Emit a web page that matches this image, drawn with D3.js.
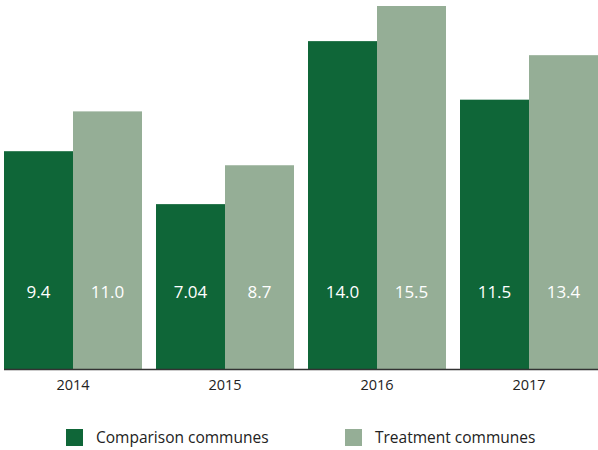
<!DOCTYPE html>
<html>
<head>
<meta charset="utf-8">
<script src="https://cdn.jsdelivr.net/npm/d3@7"></script>
<style>
  body { margin: 0; background: #fff; }
  svg text { font-family: "Open Sans", "Noto Sans", sans-serif; }
</style>
</head>
<body>
<div id="chart"></div>
<script>
var years = ["2014", "2015", "2016", "2017"];
var comparison = [9.3, 7.04, 14.0, 11.5];
var treatment = [11.0, 8.7, 15.5, 13.4];
var labelsComparison = ["9.4", "7.04", "14.0", "11.5"];
var labelsTreatment = ["11.0", "8.7", "15.5", "13.4"];
var seriesNames = ["Comparison communes", "Treatment communes"];
var colors = ["#0f6638", "#95ae96"];

var width = 598, height = 450;
var baseline = 369;

var svg = d3.select("#chart").append("svg")
  .attr("width", width)
  .attr("height", height);

var x = d3.scaleBand()
  .domain(years)
  .range([-3, 605])
  .paddingInner(14 / 152)
  .paddingOuter(7 / 152);

var sub = d3.scaleBand()
  .domain([0, 1])
  .range([0, x.bandwidth()]);

var y = d3.scaleLinear()
  .domain([0, 15.5])
  .range([baseline, 6]);

var rows = years.map(function(yr, i) {
  return {year: yr, vals: [comparison[i], treatment[i]], labels: [labelsComparison[i], labelsTreatment[i]]};
});

var group = svg.selectAll(".grp")
  .data(rows)
  .enter().append("g")
    .attr("class", "grp")
    .attr("transform", function(d) { return "translate(" + x(d.year) + ",0)"; });

group.selectAll("rect")
  .data(function(d) { return d.vals.map(function(v, j) { return {v: v, j: j}; }); })
  .enter().append("rect")
    .attr("x", function(d) { return sub(d.j); })
    .attr("y", function(d) { return y(d.v); })
    .attr("width", sub.bandwidth())
    .attr("height", function(d) { return baseline - y(d.v); })
    .attr("fill", function(d) { return colors[d.j]; });

group.selectAll("text.val")
  .data(function(d) { return d.labels.map(function(l, j) { return {l: l, j: j}; }); })
  .enter().append("text")
    .attr("class", "val")
    .attr("x", function(d) { return sub(d.j) + sub.bandwidth() / 2; })
    .attr("y", 298)
    .attr("text-anchor", "middle")
    .attr("fill", "#fff")
    .style("font-size", "17px")
    .text(function(d) { return d.l; });

// axis
var xAxis = d3.axisBottom(x).tickSize(0).tickPadding(11);
var ax = svg.append("g")
  .attr("transform", "translate(0," + baseline + ")")
  .call(xAxis);
ax.attr("font-size", 14.5)
  .attr("font-family", "'Open Sans', 'Noto Sans', sans-serif");
ax.select(".domain")
  .attr("d", "M4,0.5H598")
  .attr("stroke", "#333")
  .attr("stroke-width", 1.5);
ax.selectAll("text")
  .attr("fill", "#222");

// legend
var legendX = [66, 345];
var legend = svg.selectAll(".leg")
  .data(seriesNames)
  .enter().append("g")
    .attr("class", "leg")
    .attr("transform", function(d, i) { return "translate(" + legendX[i] + ",429)"; });
legend.append("rect")
  .attr("width", 17)
  .attr("height", 17)
  .attr("fill", function(d, i) { return colors[i]; });
legend.append("text")
  .attr("x", 30)
  .attr("y", 14)
  .attr("fill", "#222")
  .style("font-size", "15.5px")
  .text(function(d) { return d; });
</script>
</body>
</html>
